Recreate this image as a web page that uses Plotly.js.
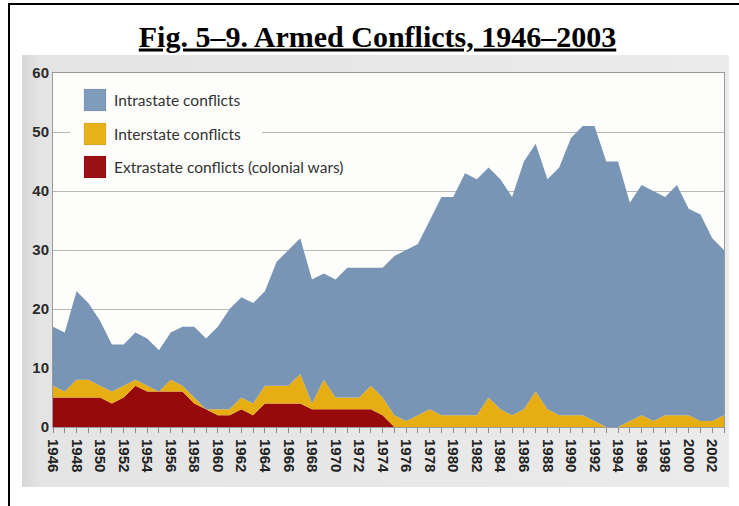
<!DOCTYPE html>
<html><head><meta charset="utf-8">
<script src="https://cdn.plot.ly/plotly-3.0.1.min.js"></script>
<style>
html,body{margin:0;padding:0;background:#fff;}
#wrap{position:relative;width:739px;height:506px;overflow:hidden;}
#scan{position:absolute;left:22px;top:55px;width:707px;height:432px;background:linear-gradient(to right,#d6d6d6 0px,#e4e4e4 18px,#ebebeb 100%);}
#chart{position:absolute;left:0;top:0;width:739px;height:506px;}
#frameTop{position:absolute;left:8px;top:3px;width:731px;height:2px;background:#000;}
#frameLeft{position:absolute;left:8px;top:3px;width:2px;height:503px;background:#000;}
</style></head>
<body>
<div id="wrap"><div id="scan"></div><div id="chart"></div><div id="frameTop"></div><div id="frameLeft"></div></div>
<script>
const years = [1946,1947,1948,1949,1950,1951,1952,1953,1954,1955,1956,1957,1958,1959,1960,1961,1962,1963,1964,1965,1966,1967,1968,1969,1970,1971,1972,1973,1974,1975,1976,1977,1978,1979,1980,1981,1982,1983,1984,1985,1986,1987,1988,1989,1990,1991,1992,1993,1994,1995,1996,1997,1998,1999,2000,2001,2002,2003];
const extrastate = [5,5,5,5,5,4,5,7,6,6, 6,6,4,3,2,2,3,2,4,4, 4,4,3,3,3,3,3,3,2,0, 0,0,0,0,0,0,0,0,0,0, 0,0,0,0,0,0,0,0,0,0, 0,0,0,0,0,0,0,0];
const interstate = [2,1,3,3,2,2,2,1,1,0, 2,1,1,0,1,1,2,2,3,3, 3,5,1,5,2,2,2,4,3,2, 1,2,3,2,2,2,2,5,3,2, 3,6,3,2,2,2,1,0,0,1, 2,1,2,2,2,1,1,2];
const intrastate = [10,10,15,13,11,8,7,8,8,7, 8,10,12,12,14,17,17,17,16,21, 23,23,21,18,20,22,22,20,22,27, 29,29,32,37,37,41,40,39,39,37, 42,42,39,42,47,49,50,45,45,37, 39,39,37,39,35,35,31,28];
const seriesNames = ['Intrastate conflicts','Interstate conflicts','Extrastate conflicts (colonial wars)'];
const tickYears = [1946,1948,1950,1952,1954,1956,1958,1960,1962,1964,1966,1968,1970,1972,1974,1976,1978,1980,1982,1984,1986,1988,1990,1992,1994,1996,1998,2000,2002];
const tickLabels = ['1946','1948','1950','1952','1954','1956','1958','1960','1962','1964','1966','1968','1970','1972','1974','1976','1978','1980','1982','1984','1986','1988','1990','1992','1994','1996','1998','2000','2002'];
const yTicks = [0,10,20,30,40,50,60];
const titleText = 'Fig. 5–9. Armed Conflicts, 1946–2003';

const colors = {intra:'#7995b5', inter:'#e6ae12', extra:'#960a0c'};
const legendColors = ['#7f9cbd','#e8b21a','#9a1014'];

// pixel -> paper helpers (plot area 53..724 x 73..427)
const L=53, R=724, T=73, B=427;
const px = p => (p-L)/(R-L);
const py = p => (B-p)/(B-T);

const traces = [
  {x:years, y:extrastate, name:seriesNames[2], stackgroup:'one', mode:'none', fillcolor:colors.extra, hoverinfo:'x+y+name'},
  {x:years, y:interstate, name:seriesNames[1], stackgroup:'one', mode:'none', fillcolor:colors.inter, hoverinfo:'x+y+name'},
  {x:years, y:intrastate, name:seriesNames[0], stackgroup:'one', mode:'none', fillcolor:colors.intra, hoverinfo:'x+y+name'}
];

const legendRows = [100, 134, 167];
const shapes = [
  {type:'rect', xref:'paper', yref:'paper', x0:px(70), x1:px(262), y0:py(184), y1:py(80), fillcolor:'#fdfdfb', line:{width:0}, layer:'above'}
];
const annotations = [];
legendRows.forEach((cy,i)=>{
  shapes.push({type:'rect', xref:'paper', yref:'paper', x0:px(84), x1:px(106), y0:py(cy+11), y1:py(cy-11), fillcolor:legendColors[i], line:{width:0.5, color:'rgba(0,0,0,0.15)'}, layer:'above'});
  annotations.push({xref:'paper', yref:'paper', x:px(112), y:py(cy), xanchor:'left', yanchor:'middle', showarrow:false, text:seriesNames[i], font:{family:'Lato', size:15.5, color:'#333'}});
});

const layout = {
  width:739, height:506,
  margin:{l:53, r:15, t:73, b:79},
  paper_bgcolor:'rgba(0,0,0,0)', plot_bgcolor:'#fdfdfb',
  showlegend:false,
  title:{text:'<b><u>'+titleText+'</u></b>', font:{family:'Liberation Serif', size:30, color:'#000'}, xref:'container', x:377.5/739, xanchor:'center', yref:'container', y:1-36/506, yanchor:'middle'},
  xaxis:{range:[1946,2003], tickmode:'array', tickvals:tickYears, ticktext:tickLabels, tickangle:90,
    ticks:'outside', ticklen:5, tickcolor:'#8a8a8a', showgrid:false, zeroline:false,
    showline:true, linecolor:'#9a9a9a', mirror:true, ticklabelstandoff:3,
    tickfont:{family:'Liberation Sans', size:15, color:'#222', weight:700},
    minor:{tickmode:'array', tickvals:years, ticks:'outside', ticklen:5, tickcolor:'#8a8a8a'}},
  yaxis:{range:[0,60], tickmode:'array', tickvals:yTicks, ticks:'', showgrid:true, gridcolor:'#b8b8b8', gridwidth:1,
    zeroline:false, showline:true, linecolor:'#9a9a9a', mirror:true,
    tickfont:{family:'Liberation Sans', size:15, color:'#2a2a2a', weight:700}},
  shapes:shapes, annotations:annotations
};
Plotly.newPlot('chart', traces, layout, {displayModeBar:false, staticPlot:true});
</script>
</body></html>
